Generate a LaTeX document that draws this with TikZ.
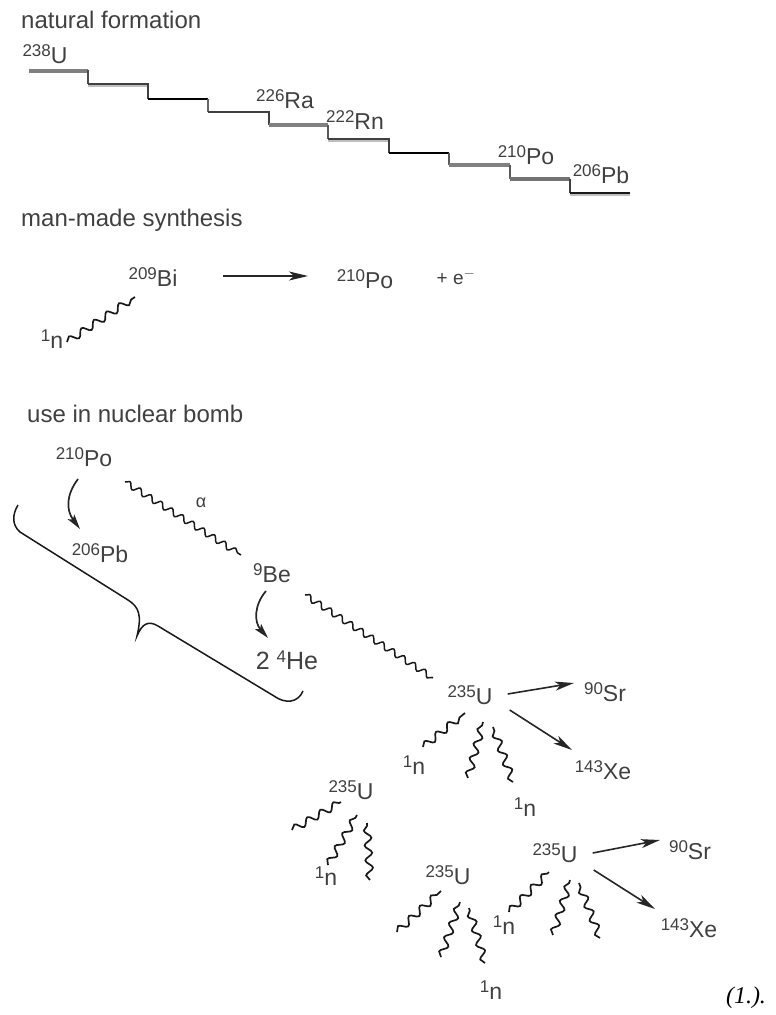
\documentclass[tikz,border=0pt]{standalone}
\usepackage{fontspec}
\setmainfont{Liberation Sans}
\newfontfamily\capfont{Liberation Serif}
\usetikzlibrary{decorations.pathmorphing,arrows.meta}
\newcommand{\nuc}[2]{{\fontsize{17}{17}\selectfont\raisebox{7pt}{#1}}#2}
\begin{document}
\begin{tikzpicture}[
    x=1pt, y=-1pt,
    title/.style={anchor=west, inner sep=0pt, text=black!75, font=\fontsize{24}{26}\selectfont},
    iso/.style={inner sep=0pt, text=black!75, font=\fontsize{23}{25}\selectfont},
    wave/.style={black!90, line width=1.7pt, decorate, decoration={snake, amplitude=3.6pt, segment length=15pt}},
    longwave/.style={black!90, line width=1.5pt, decorate, decoration={snake, amplitude=3pt, segment length=12.5pt}},
    fwd/.style={-{Stealth[length=19pt,width=9pt,inset=5pt]}, black!85, line width=1.6pt},
    decay/.style={-{Stealth[length=15pt,width=8pt,inset=3pt]}, black!85, line width=1.7pt},
    stair/.style={line width=2pt},
    fatstair/.style={line width=3.5pt}
]
    \useasboundingbox (0,0) rectangle (776,1015);

    % natural formation
    \node[title] (natural) at (21,20) {natural formation};
    \node[iso] (u238) at (45,54) {\nuc{238}{U}};
    \node[iso] (ra226) at (285,99) {\nuc{226}{Ra}};
    \node[iso] (rn222) at (355,120) {\nuc{222}{Rn}};
    \node[iso] (po210a) at (526,155) {\nuc{210}{Po}};
    \node[iso] (pb206a) at (601,174) {\nuc{206}{Pb}};

    \draw[fatstair,black!50] (29,71) -- (88,71);
    \draw[stair,black!70] (88,70) -- (88,84);
    % light band under the dark edge
    \draw[fatstair,black!25] (88,85) -- (148,85);
    \draw[stair,black!75] (88,83.5) -- (148,83.5) -- (148,99);
    \draw[stair,black] (148,99) -- (208,99);
    \draw[stair,black!60] (208,99) -- (208,112);
    \draw[stair,black!75] (208,112) -- (269,112) -- (269,125);
    \draw[fatstair,black!50] (269,125) -- (328,125);
    \draw[stair,black!65] (328,125) -- (328,139);
    \draw[fatstair,black!25] (328,140) -- (389,140);
    \draw[stair,black!75] (328,138.5) -- (389,138.5) -- (389,153);
    \draw[stair,black] (389,153) -- (449,153);
    \draw[stair,black!65] (449,153) -- (449,165);
    \draw[fatstair,black!50] (449,165) -- (510,165);
    \draw[stair,black!65] (510,165) -- (510,179);
    \draw[fatstair,black!55] (510,179) -- (570,179);
    \draw[stair,black!75] (570,179) -- (570,193);
    \draw[fatstair,black!25] (570,194) -- (630,194);
    \draw[stair,black!90] (570,192.5) -- (630,192.5);

    % man-made synthesis
    \node[title] (manmade) at (21,220) {man-made synthesis};
    \node[iso] (bi209) at (153,277) {\nuc{209}{Bi}};
    \node[iso] (po210b) at (365,279) {\nuc{210}{Po}};
    \node[iso, font=\fontsize{19}{21}\selectfont] (plus) at (456,277) {+ e$^{-}$};
    \node[iso] (nb) at (52,339) {\nuc{1}{n}};
    \coordinate (arrs) at ([shift={(45,-1)}]bi209.east);
    \coordinate (arrt) at (308,276);
    \draw[fwd] (arrs) -- (arrt);
    \coordinate (wna) at (67,342);
    \coordinate (wnb) at (135,297);
    \draw[wave] (wna) -- (wnb);

    % use in nuclear bomb
    \node[title] (bomb) at (27,414) {use in nuclear bomb};
    \node[iso] (po210c) at (84,457) {\nuc{210}{Po}};
    \node[iso] (pb206c) at (100,553) {\nuc{206}{Pb}};
    \node[iso] (be9) at (272,573) {\nuc{9}{Be}};
    \node[iso, font=\fontsize{25}{27}\selectfont] (he4) at (287,660) {2 \nuc{4}{He}};
    \node[iso, font=\fontsize{18}{20}\selectfont] (alpha) at (201,503) {α};

    \coordinate (bpa) at (78,479);
    \coordinate (bpb) at (80,529);
    \draw[decay] (bpa) .. controls (66,495) and (66,510) .. (bpb);
    \coordinate (bba) at (266,591);
    \coordinate (bbb) at (268,638);
    \draw[decay] (bba) .. controls (254,605) and (254,622) .. (bbb);

    \coordinate (wpa) at (125,482);
    \coordinate (wpb) at (241,555);
    \draw[longwave] (wpa) -- (wpb);
    \coordinate (wba) at (305,595);
    \coordinate (wbb) at (433,678);
    \draw[longwave] (wba) -- (wbb);

    % brace
    \draw[black!90, line width=1.5pt] (18,505) .. controls (12,515) and (12,525) .. (20,532)
        -- (128,600) .. controls (139,607) and (142,615) .. (137,636)
        .. controls (142,624) and (148,620) .. (158,626)
        -- (274,696) .. controls (285,704) and (298,703) .. (303,691);

    % first 235U
    \node[iso] (ua) at (470,695) {\nuc{235}{U}};
    \node[iso] (sra) at (605,692) {\nuc{90}{Sr}};
    \node[iso] (xea) at (603,770) {\nuc{143}{Xe}};
    \node[iso] (nc) at (414,765) {\nuc{1}{n}};
    \node[iso] (nd) at (525,807) {\nuc{1}{n}};
    \coordinate (asa) at ([shift={(15,-1)}]ua.east);
    \coordinate (asb) at (574,683);
    \draw[fwd] (asa) -- (asb);
    \coordinate (axa) at ([shift={(17,15)}]ua.east);
    \coordinate (axb) at (572,750);
    \draw[fwd] (axa) -- (axb);
    \coordinate (wua) at (423,747);
    \coordinate (wub) at (465,713);
    \draw[wave] (wua) -- (wub);
    \coordinate (wuc) at (468,778);
    \coordinate (wud) at (483,722);
    \draw[wave] (wuc) -- (wud);
    \coordinate (wue) at (513,782);
    \coordinate (wuf) at (493,727);
    \draw[wave] (wue) -- (wuf);

    % second 235U
    \node[iso] (ub) at (351,790) {\nuc{235}{U}};
    \node[iso] (ne) at (326,876) {\nuc{1}{n}};
    \coordinate (wva) at (292,830);
    \coordinate (wvb) at (341,802);
    \draw[wave] (wva) -- (wvb);
    \coordinate (wvc) at (328,865);
    \coordinate (wvd) at (357,815);
    \draw[wave] (wvc) -- (wvd);
    \coordinate (wve) at (370,880);
    \coordinate (wvf) at (367,823);
    \draw[wave] (wve) -- (wvf);

    % third 235U
    \node[iso] (uc) at (448,875) {\nuc{235}{U}};
    \node[iso] (nf) at (491,990) {\nuc{1}{n}};
    \coordinate (wxa) at (397,932);
    \coordinate (wxb) at (441,891);
    \draw[wave] (wxa) -- (wxb);
    \coordinate (wxc) at (441,957);
    \coordinate (wxd) at (460,902);
    \draw[wave] (wxc) -- (wxd);
    \coordinate (wxe) at (485,963);
    \coordinate (wxf) at (469,908);
    \draw[wave] (wxe) -- (wxf);

    % fourth 235U
    \node[iso] (ud) at (555,853) {\nuc{235}{U}};
    \node[iso] (srb) at (690,850) {\nuc{90}{Sr}};
    \node[iso] (xeb) at (689,928) {\nuc{143}{Xe}};
    \node[iso] (ng) at (504,925) {\nuc{1}{n}};
    \coordinate (bsa) at ([shift={(15,0)}]ud.east);
    \coordinate (bsb) at (660,840);
    \draw[fwd] (bsa) -- (bsb);
    \coordinate (bxa) at ([shift={(16,17)}]ud.east);
    \coordinate (bxb) at (655,909);
    \draw[fwd] (bxa) -- (bxb);
    \coordinate (wya) at (509,912);
    \coordinate (wyb) at (549,872);
    \draw[wave] (wya) -- (wyb);
    \coordinate (wyc) at (553,935);
    \coordinate (wyd) at (570,880);
    \draw[wave] (wyc) -- (wyd);
    \coordinate (wye) at (600,938);
    \coordinate (wyf) at (579,883);
    \draw[wave] (wye) -- (wyf);

    \node[inner sep=0pt, font=\capfont\itshape\fontsize{24}{26}\selectfont] (cite) at (746,998) {(1.).};
\end{tikzpicture}
\end{document}
